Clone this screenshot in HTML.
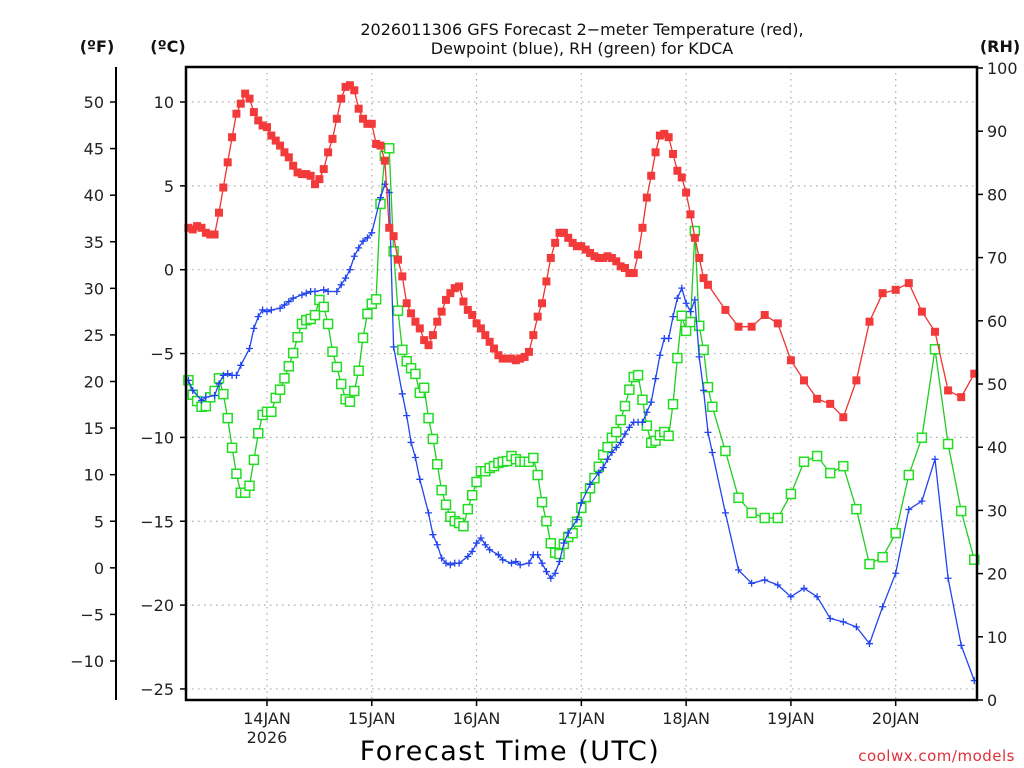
<!DOCTYPE html>
<html><head><meta charset="utf-8"><style>
html,body{margin:0;padding:0;background:#fff;}
svg{display:block;font-family:"DejaVu Sans","Liberation Sans",sans-serif;}
</style></head><body>
<svg id="chart" width="1024" height="768" viewBox="0 0 1024 768" xmlns="http://www.w3.org/2000/svg">
<rect width="1024" height="768" fill="#fff"/>
<g font-size="16" fill="#111" text-anchor="middle">
<text x="582" y="35">2026011306 GFS Forecast 2−meter Temperature (red),</text>
<text x="582" y="54">Dewpoint (blue), RH (green) for KDCA</text>
</g>
<text x="97" y="52" font-size="16" font-weight="bold" text-anchor="middle" fill="#111">(ºF)</text>
<text x="168" y="52" font-size="16" font-weight="bold" text-anchor="middle" fill="#111">(ºC)</text>
<text x="1000" y="52" font-size="16" font-weight="bold" text-anchor="middle" fill="#111">(RH)</text>
<g id="grid"></g>
<g id="axes"></g>
<g id="series"></g>
<rect x="186" y="67" width="791" height="633" fill="none" stroke="#000" stroke-width="2.5"/>
<text x="510" y="760" font-size="27" text-anchor="middle" fill="#000" letter-spacing="1.5">Forecast Time (UTC)</text>
<text x="1015" y="761" font-size="15" text-anchor="end" fill="#e0303a" letter-spacing="0.5">coolwx.com/models</text>
</svg>
<script>
const dayLabels = ["14JAN","15JAN","16JAN","17JAN","18JAN","19JAN","20JAN"];
const dayHours = [18,42,66,90,114,138,162];
const cTicks = [10,5,0,-5,-10,-15,-20,-25];
const fTicks = [50,45,40,35,30,25,20,15,10,5,0,-5,-10];
const rhTicks = [100,90,80,70,60,50,40,30,20,10,0];

const tempValues = [2.5,2.4,2.6,2.5,2.2,2.1,2.1,3.4,4.9,6.4,
7.9,9.3,9.9,10.5,10.2,9.4,8.9,8.6,8.5,8.0,
7.7,7.4,7.0,6.7,6.2,5.8,5.7,5.7,5.6,5.1,
5.4,6.0,7.0,7.8,9.0,10.2,10.9,11.0,10.7,9.6,
9.0,8.7,8.7,7.5,7.4,6.5,2.5,2.0,0.6,-0.4,
-2.0,-2.6,-3.1,-3.5,-4.2,-4.5,-3.9,-3.1,-2.5,-1.8,
-1.4,-1.1,-1.0,-1.9,-2.4,-2.7,-3.2,-3.5,-3.9,-4.3,
-4.7,-5.1,-5.3,-5.3,-5.3,-5.4,-5.3,-5.2,-4.9,-3.9,
-2.8,-2.0,-0.7,0.7,1.6,2.2,2.2,1.9,1.6,1.4,
1.4,1.2,1.0,0.8,0.7,0.7,0.8,0.7,0.5,0.2,
0.1,-0.2,-0.2,0.9,2.5,4.3,5.6,7.0,8.0,8.1,
7.9,6.9,5.9,5.5,4.6,3.3,1.9,0.7,-0.5,-0.9,
-2.4,-3.4,-3.4,-2.7,-3.2,-5.4,-6.6,-7.7,-8.0,-8.8,
-6.6,-3.1,-1.4,-1.2,-0.8,-2.5,-3.7,-7.2,-7.6,-6.2];

const dewHours = [0,1,3,4,6,7,8,9,10,11,12,14,15,16,17,18,19,21,22,23,24,26,27,28,29,31,32,34,35,36,37,38,39,40,41,42,44,45,46,47,49,50,51,52,53,55,56,57,58,59,60,61,62,64,65,66,67,68,69,71,72,74,75,76,78,79,80,81,82,83,84,85,86,87,89,90,92,94,95,96,97,98,99,100,101,102,103,104,105,106,107,108,109,110,111,112,113,114,115,116,117,118,119,120,123,126,129,132,135,138,141,144,147,150,153,156,159,162,165,168,171,174,177,180];
const dewValues = [-6.6,-7.2,-7.8,-7.6,-7.5,-6.8,-6.3,-6.2,-6.3,-6.3,-5.7,-4.7,-3.5,-2.8,-2.4,-2.5,-2.4,-2.3,-2.1,-1.9,-1.7,-1.5,-1.4,-1.3,-1.3,-1.2,-1.3,-1.3,-0.9,-0.5,0.0,0.8,1.3,1.7,1.9,2.2,4.3,5.1,4.6,-4.6,-7.4,-8.7,-10.3,-11.2,-12.5,-14.5,-15.8,-16.4,-17.2,-17.5,-17.6,-17.5,-17.5,-17.1,-16.8,-16.3,-16.0,-16.4,-16.7,-17.0,-17.3,-17.5,-17.4,-17.6,-17.5,-17.0,-17.0,-17.5,-18.0,-18.4,-18.1,-17.4,-16.3,-15.7,-14.9,-13.9,-12.8,-12.1,-11.8,-11.3,-10.9,-10.6,-10.3,-9.8,-9.4,-9.1,-9.1,-9.1,-8.5,-7.9,-6.5,-5.1,-4.1,-4.1,-2.8,-1.7,-1.1,-2.0,-2.5,-1.8,-5.2,-7.2,-9.7,-10.9,-14.5,-17.9,-18.7,-18.5,-18.8,-19.5,-19.0,-19.5,-20.8,-21.0,-21.3,-22.3,-20.1,-18.1,-14.3,-13.8,-11.3,-18.4,-22.4,-24.5];

const rhValues = [50.6,48.3,47.3,46.4,46.5,47.9,48.9,50.9,48.4,44.6,
39.9,35.8,32.8,32.8,33.9,38.0,42.2,45.1,45.6,45.6,
47.8,49.1,50.9,52.8,54.9,57.4,59.5,60.1,60.3,60.9,
63.3,62.2,59.5,55.1,52.7,50.0,47.6,47.2,48.9,52.1,
57.3,61.1,62.7,63.4,78.5,86.1,87.3,71.0,61.6,55.4,
53.6,52.5,51.6,48.6,49.4,44.6,41.3,37.3,33.2,30.9,
29.0,28.3,28.0,27.5,30.2,32.4,34.5,36.2,36.2,36.7,
37.0,37.5,37.7,37.8,38.6,38.1,37.7,37.7,37.7,38.3,
35.6,31.3,28.3,24.8,23.3,23.1,24.7,25.8,26.4,28.2,
30.4,32.1,33.5,35.1,36.9,38.8,40.0,41.5,42.4,44.3,
46.5,49.1,51.1,51.4,47.5,43.4,40.7,41.0,41.9,42.4,
41.8,46.8,54.1,60.8,58.4,59.8,74.2,59.2,55.4,49.5,46.4,
39.4,32.0,29.6,28.8,28.8,32.6,37.7,38.6,35.9,37.0,
30.2,21.5,22.6,26.4,35.6,41.5,55.5,40.5,29.9,22.2];

// hourly through the first part of the run, then 3-hourly
const tempHours = [];
for (let h = 0; h <= 119; h++) tempHours.push(h);
for (let h = 123; h <= 180; h += 3) tempHours.push(h);
const rhHours = [];
for (let h = 0; h <= 120; h++) rhHours.push(h);
for (let h = 123; h <= 180; h += 3) rhHours.push(h);

const NS = "http://www.w3.org/2000/svg";
const X0 = 188.4, PXH = 4.366;
function xS(h){ return X0 + h * PXH; }
function yC(c){ return 269.7 - c * 16.77; }
function yF(f){ return yC((f - 32) * 5 / 9); }
function yRH(r){ return 700 - r * 6.32; }
function mk(tag, attrs, parent){
  const e = document.createElementNS(NS, tag);
  for (const k in attrs) e.setAttribute(k, attrs[k]);
  parent.appendChild(e);
  return e;
}
const grid = document.getElementById('grid');
const axes = document.getElementById('axes');
const series = document.getElementById('series');

// grid
cTicks.forEach(c => {
  const y = yC(c);
  const l = mk('line', {x1:186, x2:977, y1:y, y2:y, stroke:'#aaa', 'stroke-width':1.2, 'stroke-dasharray':'1.5 4.5'}, grid);
  
  
});
dayHours.forEach(h => {
  const x = xS(h);
  const l = mk('line', {x1:x, x2:x, y1:67, y2:700, stroke:'#aaa', 'stroke-width':1.2, 'stroke-dasharray':'1.5 4.5'}, grid);
  
  
});

// F axis
const fl = mk('line', {x1:116, x2:116, y1:67, y2:700, stroke:'#000', 'stroke-width':2}, axes);


fTicks.forEach(f => {
  const y = yF(f);
  mk('line', {x1:110, x2:116, y1:y, y2:y, stroke:'#000', 'stroke-width':1.5}, axes);
  const t = mk('text', {x:104, y:y+6, 'font-size':16, 'text-anchor':'end', fill:'#222'}, axes);
  t.textContent = String(f).replace('-', '−');
  
  
});
// C axis
cTicks.forEach(c => {
  const y = yC(c);
  mk('line', {x1:180, x2:186, y1:y, y2:y, stroke:'#000', 'stroke-width':1.5}, axes);
  const t = mk('text', {x:174, y:y+6, 'font-size':16, 'text-anchor':'end', fill:'#222'}, axes);
  t.textContent = String(c).replace('-', '−');
  
  
});
// RH axis
rhTicks.forEach(r => {
  const y = yRH(r);
  mk('line', {x1:977, x2:983, y1:y, y2:y, stroke:'#000', 'stroke-width':1.5}, axes);
  const t = mk('text', {x:987, y:y+6, 'font-size':16, 'text-anchor':'start', fill:'#222'}, axes);
  t.textContent = String(r);
  
  
});
// X axis
dayHours.forEach((h, i) => {
  const x = xS(h);
  mk('line', {x1:x, x2:x, y1:700, y2:706, stroke:'#000', 'stroke-width':1.5}, axes);
  const t = mk('text', {x:x, y:724, 'font-size':16, 'text-anchor':'middle', fill:'#222'}, axes);
  t.textContent = dayLabels[i];
  
  
});
const yr = mk('text', {x:xS(dayHours[0]), y:743, 'font-size':16, 'text-anchor':'middle', fill:'#222'}, axes);
yr.textContent = '2026';



function drawLine(hours, vals, yfn, color, name){
  const d = hours.map((h, i) => (i ? 'L' : 'M') + xS(h).toFixed(1) + ' ' + yfn(vals[i]).toFixed(1)).join(' ');
  const p = mk('path', {d:d, fill:'none', stroke:color, 'stroke-width':1.3}, series);
  
  
}
// RH (green)
drawLine(rhHours, rhValues, yRH, '#22cc22', 'rh-line');
rhHours.forEach((h, i) => {
  const r = mk('rect', {x:xS(h)-4.5, y:yRH(rhValues[i])-4.5, width:9, height:9, fill:'#fff', stroke:'#22dd22', 'stroke-width':1.5}, series);
  
  
});
// Dewpoint (blue)
drawLine(dewHours, dewValues, yC, '#2244ee', 'dewpoint-line');
dewHours.forEach((h, i) => {
  const x = xS(h), y = yC(dewValues[i]);
  const p = mk('path', {d:`M${x-3.5} ${y}H${x+3.5}M${x} ${y-3.5}V${y+3.5}`, stroke:'#2244ee', 'stroke-width':1.3, fill:'none'}, series);
  
  
});
// Temperature (red)
drawLine(tempHours, tempValues, yC, '#ee3333', 'temperature-line');
tempHours.forEach((h, i) => {
  const r = mk('rect', {x:xS(h)-4, y:yC(tempValues[i])-4, width:8, height:8, fill:'#f23a3a'}, series);
  
  
});
</script>
</body></html>
